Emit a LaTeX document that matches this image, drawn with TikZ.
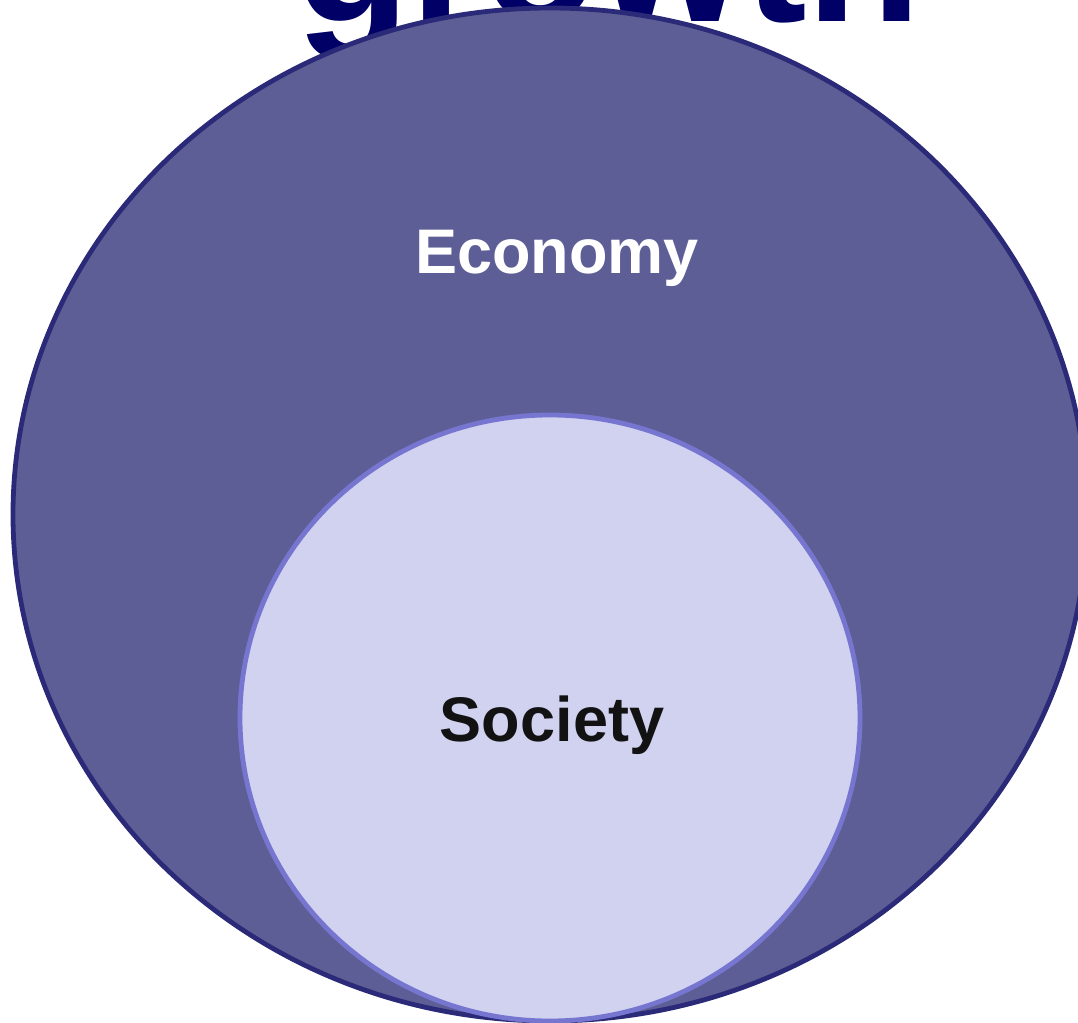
\documentclass[tikz,border=0pt]{standalone}
\usepackage{fontspec}
\setmainfont{Liberation Sans}
\usetikzlibrary{shapes.geometric, positioning}
\definecolor{econfill}{HTML}{5E5E96}
\definecolor{econline}{HTML}{2B2A78}
\definecolor{socfill}{HTML}{D1D1F0}
\definecolor{socline}{HTML}{7676D0}
\definecolor{titlenavy}{HTML}{000066}
\tikzset{
    x=0.5pt, y=-0.5pt, % one unit is one pixel of the slide
    sphere/.style={ellipse, inner sep=0pt, line width=2.4pt}, % sets the properties for each nested circle
    sphere label/.style={font=\bfseries\fontsize{31.5}{36}\selectfont, inner sep=0pt, anchor=base}, % text inside a circle
}
\begin{document}
\begin{tikzpicture}
            \useasboundingbox (0,0) rectangle (1078,1023);
            \node[font=\bfseries\fontsize{94}{100}\selectfont, text=titlenavy, inner sep=0pt, anchor=base] (title) at (608.5,21) {growth};
            \node[sphere, draw=econline, fill=econfill, minimum width=537pt, minimum height=506.5pt] (economy) at (550,514.5) {};
            \node[sphere, draw=socline, fill=socfill, minimum width=310pt, minimum height=303pt] (society) at (550,718) {};
            \node[sphere label, text=white] (econ) at (557,273) {Economy};
            \node[sphere label, text=black!93] (soc) at (552,741) {Society};
        \end{tikzpicture}
\end{document}
